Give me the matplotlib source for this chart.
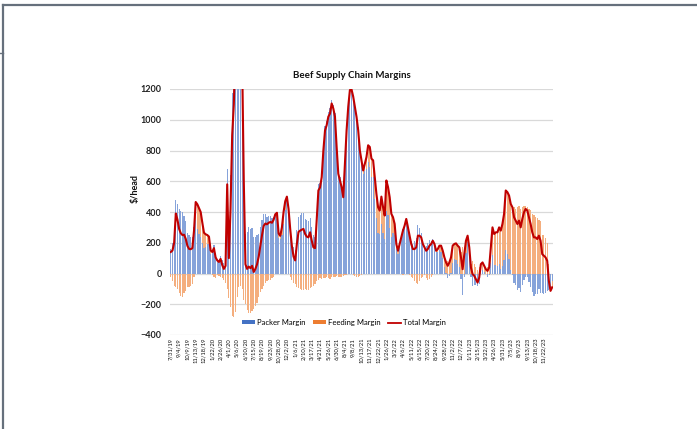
import numpy as np
import matplotlib
matplotlib.use("Agg")
import matplotlib.pyplot as plt
from matplotlib.lines import Line2D
from matplotlib.patches import Patch

plt.rcParams['font.family'] = ['Lato', 'DejaVu Sans']

# Weekly margins ($/head), first week 7/31/19, last week 12/27/23
total_margin = [
    140, 150, 200, 390, 350, 290, 262, 250, 252, 225,
    180, 160, 158, 165, 280, 465, 450, 425, 400, 330,
    265, 255, 250, 240, 150, 140, 165, 105, 85, 75,
    95, 55, 30, 50, 580, 100, 420, 900, 1100, 1500,
    1900, 2000, 1800, 1400, 600, 60, 30, 45, 35, 50,
    10, 30, 60, 110, 180, 250, 310, 325, 320, 330,
    335, 330, 350, 385, 395, 260, 245, 300, 400, 470,
    500, 420, 290, 180, 110, 85, 190, 270, 279, 285,
    290, 257, 240, 235, 268, 213, 170, 165, 350, 540,
    560, 627, 800, 930, 965, 1020, 1040, 1106, 1073, 1020,
    823, 649, 605, 562, 496, 714, 930, 1084, 1193, 1197,
    1150, 1084, 1019, 932, 801, 736, 670, 714, 757, 834,
    823, 747, 736, 627, 518, 431, 409, 500, 431, 377,
    605, 562, 496, 388, 366, 322, 192, 148, 192, 235,
    279, 311, 355, 300, 246, 192, 159, 159, 170, 246,
    246, 235, 192, 170, 148, 159, 181, 192, 213, 192,
    148, 159, 181, 181, 148, 105, 72, 50, 72, 105,
    181, 192, 196, 181, 170, 105, 28, 126, 213, 246,
    170, 39, -4, -15, -37, -59, -26, 61, 72, 50,
    28, 17, 39, 170, 300, 257, 268, 268, 300, 279,
    322, 388, 540, 529, 507, 453, 431, 366, 344, 322,
    344, 300, 355, 398, 420, 409, 366, 322, 268, 235,
    235, 224, 246, 213, 126, 115, 105, 83, -48, -113,
    -90,
]

feeding_margin = [
    -20, -50, -80, -90, -100, -130, -145, -150, -125, -115,
    -85, -90, -80, -70, -20, 120, 160, 170, 160, 130,
    100, 80, 60, 50, 20, -10, -20, -30, -10, -15,
    -20, -30, -40, -60, -100, -160, -220, -275, -280, -250,
    -150, -90, -80, -100, -170, -200, -240, -260, -255, -245,
    -230, -210, -190, -150, -120, -100, -80, -60, -50, -45,
    -40, -30, -20, 0, 40, 30, 20, 50, 80, 60,
    30, 10, -20, -40, -60, -70, -90, -95, -100, -110,
    -105, -100, -110, -105, -95, -90, -80, -70, -50, -40,
    -30, -35, -30, -30, -25, -30, -35, -25, -20, -25,
    -15, -20, -25, -20, -15, -10, -10, -5, 0, -5,
    -10, -15, -20, -20, -15, -10, 20, 50, 80, 110,
    130, 120, 110, 140, 160, 170, 150, 180, 170, 150,
    200, 180, 200, 150, 100, 70, 30, 20, 10, 0,
    -10, 0, 10, 0, -10, -20, -30, -50, -60, -70,
    -50, -30, -20, -10, -30, -40, -35, -20, -10, 0,
    10, 20, 30, 40, 50, 60, 70, 80, 90, 100,
    110, 100, 110, 120, 130, 140, 170, 150, 80, 40,
    30, 60, 80, 60, 40, 20, 40, 60, 50, 40,
    30, 40, 50, 100, 180, 200, 210, 220, 240, 250,
    270, 300, 390, 400, 410, 430, 440, 430, 420, 430,
    440, 420, 430, 440, 440, 430, 420, 410, 390, 380,
    370, 360, 350, 340, 250, 250, 230, 200, 60, -10,
    -40,
]

packer_margin = [
    160, 200, 280, 480, 450, 420, 407, 400, 377, 340,
    265, 250, 238, 235, 300, 345, 290, 255, 240, 200,
    165, 175, 190, 190, 130, 150, 185, 135, 95, 90,
    115, 85, 70, 110, 680, 260, 640, 1175, 1380, 1750,
    2050, 2090, 1880, 1500, 770, 260, 270, 305, 290, 295,
    240, 240, 250, 260, 300, 350, 390, 385, 370, 375,
    375, 360, 370, 385, 355, 230, 225, 250, 320, 410,
    470, 410, 310, 220, 170, 155, 280, 365, 379, 395,
    395, 357, 350, 340, 363, 303, 250, 235, 400, 580,
    590, 662, 830, 960, 990, 1050, 1075, 1131, 1093, 1045,
    838, 669, 630, 582, 511, 724, 940, 1089, 1193, 1202,
    1160, 1099, 1039, 952, 816, 746, 650, 664, 677, 724,
    693, 627, 626, 487, 358, 261, 259, 320, 261, 227,
    405, 382, 296, 238, 266, 252, 162, 128, 182, 235,
    289, 311, 345, 300, 256, 212, 189, 209, 230, 316,
    296, 265, 212, 180, 178, 199, 216, 212, 223, 192,
    138, 139, 151, 141, 98, 45, 2, -30, -18, 5,
    71, 92, 86, 61, 40, -35, -142, -24, 133, 206,
    140, -21, -84, -75, -77, -79, -66, 1, 22, 10,
    -2, -23, -11, 70, 120, 57, 58, 48, 60, 29,
    52, 88, 150, 129, 97, 23, -9, -64, -76, -108,
    -96, -120, -75, -42, -20, -21, -54, -88, -122, -145,
    -135, -136, -104, -127, -124, -135, -125, -117, -108, -103,
    -50,
]

tick_labels = [
    "7/31/19", "9/4/19", "10/9/19", "11/13/19", "12/18/19", "1/22/20",
    "2/26/20", "4/1/20", "5/6/20", "6/10/20", "7/15/20", "8/19/20",
    "9/23/20", "10/28/20", "12/2/20", "1/6/21", "2/10/21", "3/17/21",
    "4/21/21", "5/26/21", "6/30/21", "8/4/21", "9/8/21", "10/13/21",
    "11/17/21", "12/22/21", "1/26/22", "3/2/22", "4/6/22", "5/11/22",
    "6/15/22", "7/20/22", "8/24/22", "9/28/22", "11/2/22", "12/7/22",
    "1/11/23", "2/15/23", "3/22/23", "4/26/23", "5/31/23", "7/5/23",
    "8/9/23", "9/13/23", "10/18/23", "11/22/23",
]
tick_step = 5

W, H = 697, 429
fig = plt.figure(figsize=(W / 100, H / 100), dpi=100)
fig.patch.set_facecolor('white')

ax = fig.add_axes([170 / W, 1 - 335 / H, (553 - 170) / W, (335 - 89) / H])

x = np.arange(len(total_margin))
pk = np.array(packer_margin, dtype=float)
fd = np.array(feeding_margin, dtype=float)

# Stacked columns: positives stack upward, negatives stack downward
same_sign = ((fd >= 0) & (pk >= 0)) | ((fd < 0) & (pk < 0))
fd_bottom = np.where(same_sign, pk, 0.0)

bar_w = 0.72
ax.bar(x, pk, width=bar_w, color='#86A3DA', linewidth=0, zorder=2)
ax.bar(x, fd, bottom=fd_bottom, width=bar_w, color='#F4AE7E', linewidth=0, zorder=2)
ax.plot(x, total_margin, color='#C00000', lw=1.5, zorder=3, solid_joinstyle='round')

ax.set_xlim(-0.5, len(total_margin) - 0.5)
ax.set_ylim(-400, 1200)
ax.set_yticks(np.arange(-400, 1201, 200))
ax.yaxis.grid(True, color='#d9d9d9', lw=0.9, zorder=0)
ax.set_axisbelow(True)
for s in ax.spines.values():
    s.set_visible(False)

ax.set_xticks(x[::tick_step][:len(tick_labels)])
ax.set_xticklabels(tick_labels, rotation=90, fontsize=4.2, color='#111111')
ax.tick_params(axis='x', length=0, pad=2)
ax.tick_params(axis='y', length=0, pad=6, labelsize=6.5)
for t in ax.get_yticklabels():
    t.set_fontweight('bold')
    t.set_color('#222222')

fig.text(352 / W, 1 - 76 / H, 'Beef Supply Chain Margins', ha='center', va='center',
         fontsize=7, fontweight='bold', color='#111111')
fig.text(135 / W, 1 - 188 / H, r'\$/head', rotation=90, ha='center', va='center',
         fontsize=6.5, fontweight='bold', color='#111111')

handles = [Patch(facecolor='#4472C4'), Patch(facecolor='#ED7D31'),
           Line2D([0], [0], color='#C00000', lw=1.3)]
fig.legend(handles, ['Packer Margin', 'Feeding Margin', 'Total Margin'],
           loc='center', bbox_to_anchor=(344 / W, 1 - 322.5 / H), ncol=3,
           frameon=False, fontsize=5.5, handlelength=1.7, handleheight=0.5,
           columnspacing=1.0, handletextpad=0.25)

# slide frame
frame_c = '#66707c'
fig.add_artist(Line2D([3 / W, 1], [1 - 5 / H, 1 - 5 / H], transform=fig.transFigure,
                      color=frame_c, lw=1.6))
fig.add_artist(Line2D([3.5 / W, 3.5 / W], [0, 1 - 5 / H], transform=fig.transFigure,
                      color=frame_c, lw=1.6))
fig.add_artist(Line2D([0, 3 / W], [1 - 52.5 / H, 1 - 52.5 / H], transform=fig.transFigure,
                      color=frame_c, lw=1.0))

fig.savefig('out.png', dpi=100, facecolor='white')
